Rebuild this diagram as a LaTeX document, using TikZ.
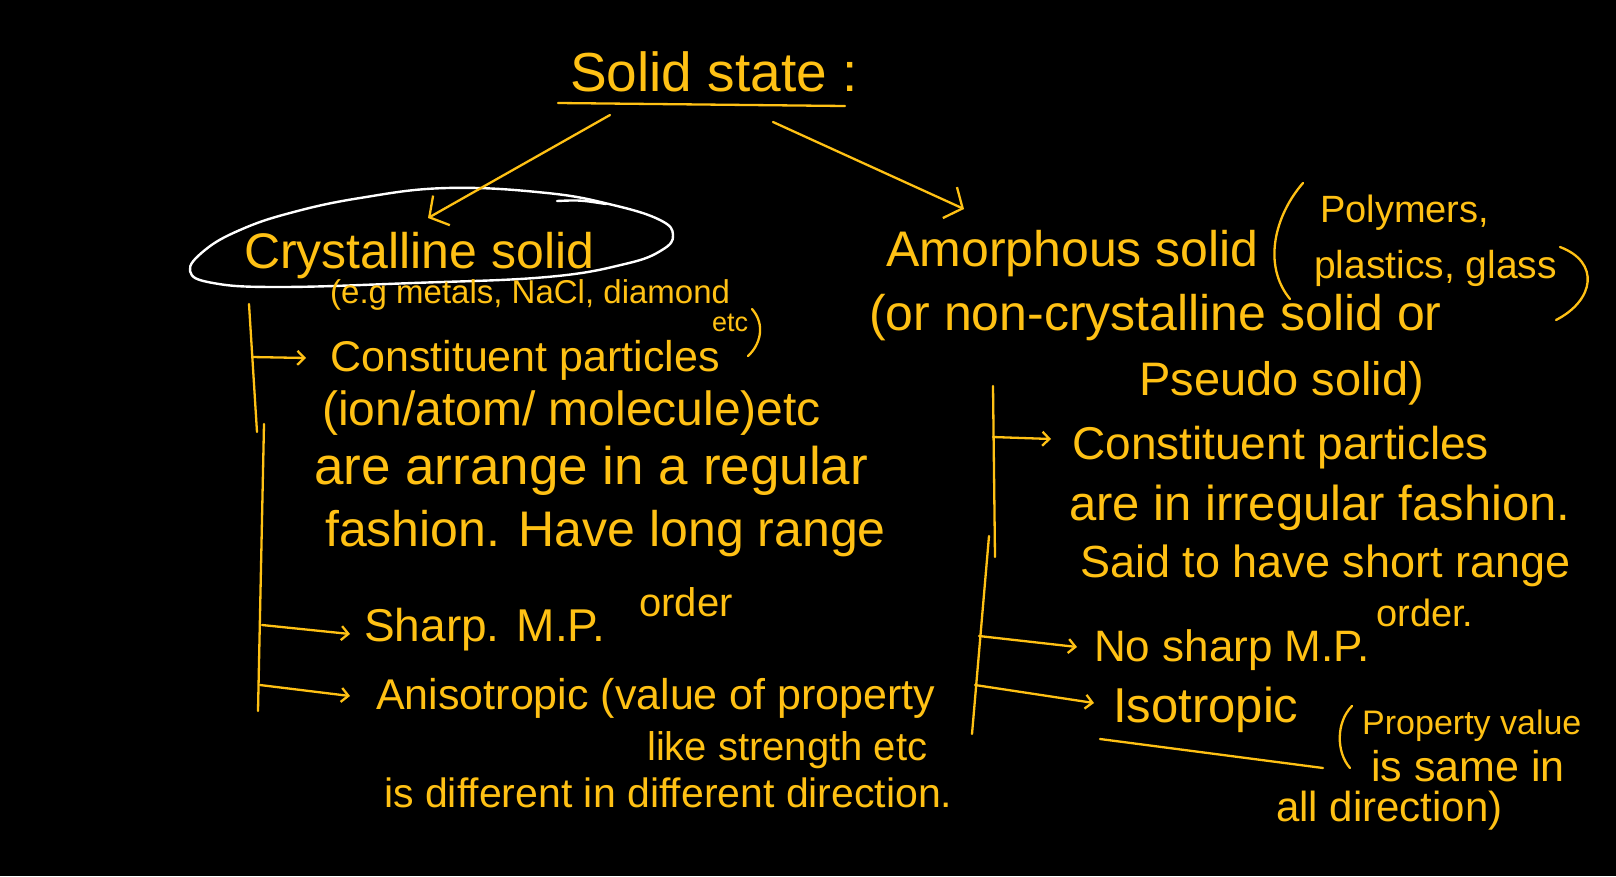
\documentclass[tikz,border=0pt]{standalone}
\usepackage{fontspec}
\setmainfont{Liberation Sans}
\usetikzlibrary{arrows.meta}
\definecolor{ink}{RGB}{255,193,20}
\begin{document}
\begin{tikzpicture}[x=1pt,y=-1pt,line cap=round,line join=round,
  txt/.style={text=ink,inner sep=0pt,anchor=base west,font=\fontsize{#1}{#1}\selectfont},
  stroke/.style={draw=ink,line width=2.3pt},
  arr/.style={stroke,-{Straight Barb[length=7pt,width=14pt,line width=2.3pt]}},
  bigarr/.style={stroke,-{Straight Barb[length=14pt,width=34pt,line width=2.3pt]}}]
\fill[black] (0,0) rectangle (1616,876);
\useasboundingbox (0,0) rectangle (1616,876);

% title
\node[txt=55] (title) at (570,91) {Solid state :};
\coordinate (tl1) at (558,103);
\coordinate (tl2) at (845,106);
\draw[stroke] (tl1) -- (tl2);
\coordinate (ta) at (610,115);
\coordinate (tb) at (773,122);

% left column
\node[txt=50] (cryst) at (244,268) {Crystalline solid};
\draw[white,line width=2.4pt] plot[smooth cycle,tension=0.7] coordinates {
  (447,188) (547,193) (613,205) (660,220) (673,235) (662,250) (625,264)
  (547,277) (413,283) (280,287) (213,283) (190,271) (205,250) (240,230)
  (290,213) (360,198)};
\draw[white,line width=2.4pt] (557,201) .. controls (580,200) .. (606,204);
\coordinate (ctip) at (428,218);
\draw[bigarr] (ta) -- (ctip);
\node[txt=33] (eg) at (330,303) {(e.g metals, NaCl, diamond};
\node[txt=27] (etc) at (712,331) {etc};
\draw[stroke] (752,309) .. controls (766,325) and (760,345) .. (748,356);
\node[txt=43] (cpL) at (330,371) {Constituent particles};
\node[txt=48] (ion) at (322,425) {(ion/atom/ molecule)etc};
\node[txt=53] (arr1) at (314,484) {are arrange in a regular};
\node[txt=50] (fash) at (325,546) {fashion. Have long range};
\node[txt=40] (ordL) at (639,616) {order};
\node[txt=46] (sharp) at (364,641) {Sharp. M.P.};
\node[txt=43] (aniso) at (376,709) {Anisotropic (value of property};
\node[txt=40] (like) at (647,760) {like strength etc};
\node[txt=41] (isdiff) at (384,807) {is different in different direction.};

\coordinate (bL0) at (249,304);
\coordinate (bLm) at (257,432);
\coordinate (bLm2) at (264,424);
\coordinate (bLe) at (258,711);
\draw[stroke] (bL0) -- (bLm);
\draw[stroke] (bLm2) -- (bLe);
\coordinate (bL1) at (252,357);
\coordinate (bL2) at (262,625);
\coordinate (bL3) at (260,685);
\draw[arr] (bL1) -- (306,358);
\draw[arr] (bL2) -- (350,634);
\draw[arr] (bL3) -- (350,696);

% right column
\coordinate (atip) at (964,209);
\draw[bigarr] (tb) -- (atip);
\node[txt=50] (amor) at (886,266) {Amorphous solid};
\draw[stroke] (1303,183) .. controls (1275,215) and (1262,265) .. (1290,299);
\node[txt=38] (poly) at (1320,222) {Polymers,};
\node[txt=39] (plast) at (1314,278) {plastics, glass};
\draw[stroke] (1560,247) .. controls (1600,262) and (1595,300) .. (1556,320);
\node[txt=50] (ornon) at (869,330) {(or non-crystalline solid or};
\node[txt=47] (pseudo) at (1139,395) {Pseudo solid)};
\node[txt=46] (cpR) at (1072,459) {Constituent particles};
\node[txt=49] (irr) at (1069,520) {are in irregular fashion.};
\node[txt=45] (said) at (1080,577) {Said to have short range};
\node[txt=38] (ordR) at (1376,626) {order.};
\node[txt=44] (nosharp) at (1094,661) {No sharp M.P.};
\node[txt=49] (iso) at (1113,722) {Isotropic};
\coordinate (iu1) at (1100,739);
\coordinate (iu2) at (1323,768);
\draw[stroke] (iu1) -- (iu2);
\draw[stroke] (1352,706) .. controls (1336,722) and (1336,752) .. (1350,768);
\node[txt=34] (prop) at (1362,734) {Property value};
\node[txt=43] (same) at (1371,781) {is same in};
\node[txt=42] (alldir) at (1276,821) {all direction)};

\coordinate (bR0) at (993,386);
\coordinate (bRm) at (995,557);
\coordinate (bRm2) at (989,536);
\coordinate (bRe) at (972,734);
\draw[stroke] (bR0) -- (bRm);
\draw[stroke] (bRm2) -- (bRe);
\coordinate (bR1) at (993,437);
\coordinate (bR2) at (979,636);
\coordinate (bR3) at (975,685);
\draw[arr] (bR1) -- (1051,439);
\draw[arr] (bR2) -- (1077,647);
\draw[arr] (bR3) -- (1094,703);
\end{tikzpicture}
\end{document}
